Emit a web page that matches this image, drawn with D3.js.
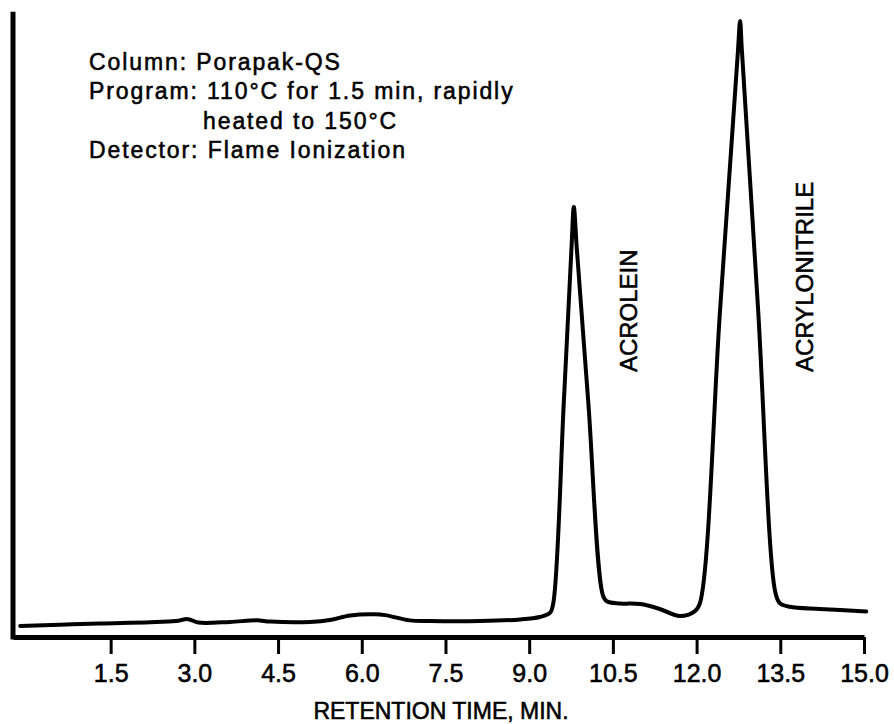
<!DOCTYPE html>
<html>
<head>
<meta charset="utf-8">
<script src="https://cdn.jsdelivr.net/npm/d3@7"></script>
<style>
    body { margin: 0; background: #fff; }
    svg { display: block; font-family: "Liberation Sans", Arial, Helvetica, sans-serif; }
    /* old print is a bit heavier than the regular weight */
    svg text { stroke: #000; stroke-width: 0.55px; fill: #000; }
</style>
</head>
<body>
<div id="chart"></div>
<script>
// Trace (minutes, relative detector response)
const retentionTime = [-0.12, 0.59, 1.31, 2.21, 2.67, 2.89, 3.07, 3.64, 4.12, 4.36, 5.07, 5.43, 5.79, 6.24, 6.42,
    6.86, 7.22, 8.12, 8.84, 9.19, 9.37, 9.43, 9.62, 9.76, 9.80, 9.85, 10.06, 10.32, 10.39, 10.63, 10.99, 11.34, 11.70,
    11.97, 12.06, 12.42, 12.74, 12.78, 12.81, 13.10, 13.41, 13.49, 13.67, 14.21, 15.04]
const response = [1.8, 2.0, 2.2, 2.4, 2.6, 2.9, 2.35, 2.45, 2.7, 2.5, 2.45, 2.75, 3.5, 3.7, 3.55,
    2.7, 2.6, 2.6, 2.85, 3.25, 3.9, 5.4, 38.0, 63.5, 69.8, 63.5, 38.0, 6.8, 5.8, 5.45, 5.35, 4.55, 3.4,
    4.2, 5.5, 53.0, 95.0, 100.0, 95.5, 53.5, 7.3, 5.5, 4.9, 4.55, 4.15]

const tickValues = [1.5, 3.0, 4.5, 6.0, 7.5, 9.0, 10.5, 12.0, 13.5, 15.0]
const axisTitle = 'RETENTION TIME, MIN.'
const peakNames = ['ACROLEIN', 'ACRYLONITRILE']
const conditions = [
    'Column: Porapak-QS',
    'Program: 110°C for 1.5 min, rapidly',
    'heated to 150°C',
    'Detector: Flame Ionization'
]

const width = 894
const height = 724

const svg = d3.select('#chart')
    .append('svg')
    .attr('width', width)
    .attr('height', height)

// x axis starts a little before zero, like the paper chart
const x = d3.scaleLinear().domain([-0.25, 15]).range([13, 864])
const y = d3.scaleLinear().domain([0, 100]).range([637, 21])

// Bottom axis
const xAxis = d3.axisBottom(x)
    .tickValues(tickValues)
    .tickSize(17)
    .tickSizeOuter(0)
    .tickPadding(10)
    .tickFormat(d3.format('.1f'))

const gx = svg.append('g')
    .attr('transform', `translate(0,${y(0)})`)
    .call(xAxis)
gx.select('.domain')
    .attr('stroke', '#000')
    .attr('stroke-width', 5)
gx.selectAll('.tick line')
    .attr('stroke', '#000')
    .attr('stroke-width', 3)
gx.selectAll('.tick text')
    .style('font-size', '25px')

// Left axis is just a heavy line
svg.append('line')
    .attr('x1', x(-0.25))
    .attr('x2', x(-0.25))
    .attr('y1', y(101.5))
    .attr('y2', y(0) + 2.5)
    .attr('stroke', '#000')
    .attr('stroke-width', 5)

svg.append('text')
    .attr('x', 441)
    .attr('y', 719)
    .attr('text-anchor', 'middle')
    .style('font-size', '23px')
    .text(axisTitle)

// Chromatogram trace
const pts = retentionTime.map((t, i) => [t, response[i]])
const line = d3.line()
    .x(d => x(d[0]))
    .y(d => y(d[1]))
    .curve(d3.curveCatmullRom.alpha(0.5))

svg.append('path')
    .datum(pts)
    .attr('d', line)
    .attr('fill', 'none')
    .attr('stroke', '#000')
    .attr('stroke-width', 4)
    .attr('stroke-linejoin', 'round')
    .attr('stroke-linecap', 'round')

// Peak names, written upwards beside each peak
const peakLabelAt = [[10.93, 43], [14.09, 43]]
svg.selectAll('.peak-label')
    .data(peakNames)
    .enter()
    .append('text')
    .attr('class', 'peak-label')
    .attr('transform', (d, i) => `translate(${x(peakLabelAt[i][0])},${y(peakLabelAt[i][1])}) rotate(-90)`)
    .style('font-size', '24px')
    .text(d => d)

// Run conditions block
svg.selectAll('.cond')
    .data(conditions)
    .enter()
    .append('text')
    .attr('class', 'cond')
    .attr('x', (d, i) => i === 2 ? 203 : 89)
    .attr('y', (d, i) => 70 + i * 29.3)
    .style('font-size', '23px')
    .style('letter-spacing', '1.9px')
    .text(d => d)
</script>
</body>
</html>
